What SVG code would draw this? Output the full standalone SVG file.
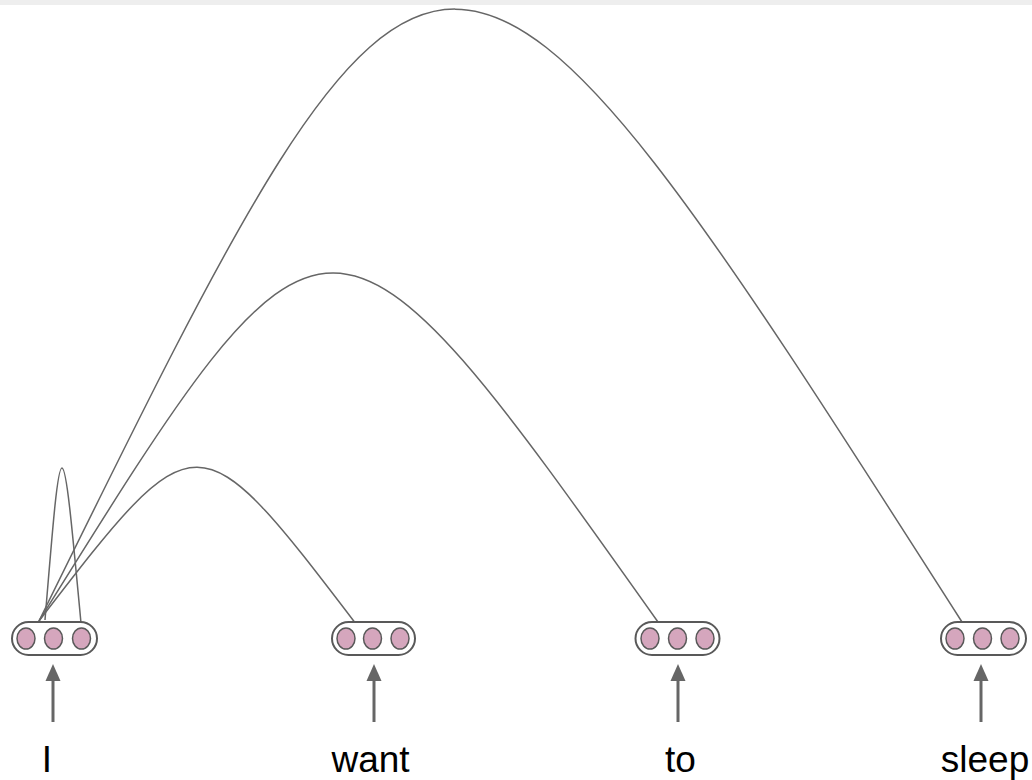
<svg xmlns="http://www.w3.org/2000/svg" width="1032" height="780" viewBox="0 0 1032 780">
<defs>
<style>
.box{fill:#ffffff;stroke:#595959;stroke-width:2}
.dot{fill:#d5a6bd;stroke:#595959;stroke-width:1.5}
.arc{fill:none;stroke:#666666;stroke-width:1.5}
.stem{stroke:#666666;stroke-width:3}
.head{fill:#666666}
.lbl{font-family:"Liberation Sans",Arial,sans-serif;font-size:37px;fill:#000000;text-anchor:middle}
</style>
</defs>
<rect x="0" y="0" width="1032" height="780" fill="#ffffff"/>
<rect x="0" y="0" width="1032" height="5" fill="#eeeeee"/>
<g id="connectors">
<path class="arc" d="M45,620 C61.7,416.8 61.7,416.8 81,623"/>
<path class="arc" d="M39,621 C197,415.5 197,415.5 356,624"/>
<path class="arc" d="M39,621 C328,156.8 328,156.8 658,622"/>
<path class="arc" d="M39,621 C440,-195 440,-195 962,622"/>
</g>
<g id="node-I">
<rect class="box" x="12" y="622" width="85" height="33" rx="16.5"/>
<ellipse class="dot" cx="26" cy="638.5" rx="9" ry="10.5"/>
<ellipse class="dot" cx="53.5" cy="638.5" rx="9" ry="10.5"/>
<ellipse class="dot" cx="81.5" cy="638.5" rx="9" ry="10.5"/>
<line class="stem" x1="53" y1="722" x2="53" y2="678"/>
<polygon class="head" points="53,664 45.5,681 60.5,681"/>
<text class="lbl" x="47" y="772">I</text>
</g>
<g id="node-want">
<rect class="box" x="332" y="622" width="83" height="33" rx="16.5"/>
<ellipse class="dot" cx="346" cy="638.5" rx="9" ry="10.5"/>
<ellipse class="dot" cx="372.5" cy="638.5" rx="9" ry="10.5"/>
<ellipse class="dot" cx="400" cy="638.5" rx="9" ry="10.5"/>
<line class="stem" x1="374" y1="722" x2="374" y2="678"/>
<polygon class="head" points="374,664 366.5,681 381.5,681"/>
<text class="lbl" x="370.5" y="772">want</text>
</g>
<g id="node-to">
<rect class="box" x="635.5" y="622" width="84" height="33" rx="16.5"/>
<ellipse class="dot" cx="650" cy="638.5" rx="9" ry="10.5"/>
<ellipse class="dot" cx="677.5" cy="638.5" rx="9" ry="10.5"/>
<ellipse class="dot" cx="705" cy="638.5" rx="9" ry="10.5"/>
<line class="stem" x1="678" y1="722" x2="678" y2="678"/>
<polygon class="head" points="678,664 670.5,681 685.5,681"/>
<text class="lbl" x="680.5" y="772">to</text>
</g>
<g id="node-sleep">
<rect class="box" x="941" y="622" width="85" height="33" rx="16.5"/>
<ellipse class="dot" cx="955" cy="638.5" rx="9" ry="10.5"/>
<ellipse class="dot" cx="982.5" cy="638.5" rx="9" ry="10.5"/>
<ellipse class="dot" cx="1010" cy="638.5" rx="9" ry="10.5"/>
<line class="stem" x1="981" y1="722" x2="981" y2="678"/>
<polygon class="head" points="981,664 973.5,681 988.5,681"/>
<text class="lbl" x="985" y="772">sleep</text>
</g>
</svg>
